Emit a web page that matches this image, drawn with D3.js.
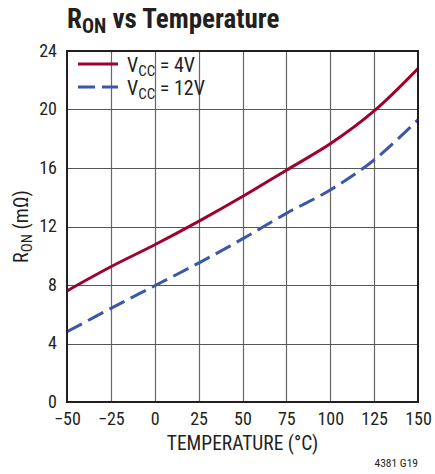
<!DOCTYPE html>
<html><head><meta charset="utf-8">
<script src="https://cdn.jsdelivr.net/npm/d3@7"></script>
<style>body{margin:0;background:#fff}svg{display:block}text{font-family:"Liberation Sans Narrow","Roboto Condensed","Roboto",sans-serif;fill:#231f20}</style>
</head><body><svg id="c" width="435" height="474"></svg>
<script>
const temps = [-50, -25, 0, 25, 50, 75, 100, 125, 150];
const ron4V = [7.6, 9.25, 10.75, 12.35, 14.05, 15.85, 17.65, 19.9, 22.8];
const ron12V = [4.8, 6.4, 7.95, 9.5, 11.15, 12.9, 14.5, 16.55, 19.3];
const xTicks = [-50, -25, 0, 25, 50, 75, 100, 125, 150];
const yTicks = [0, 4, 8, 12, 16, 20, 24];

const svg = d3.select("#c");
const m = {l: 67, r: 418, t: 51, b: 402};
const x = d3.scaleLinear().domain([-50, 150]).range([m.l, m.r]);
const y = d3.scaleLinear().domain([0, 24]).range([m.b, m.t]);

// grid
svg.append("g").selectAll("line").data(xTicks.slice(1, -1)).join("line")
  .attr("x1", d => Math.round(x(d)) + 0.5).attr("x2", d => Math.round(x(d)) + 0.5)
  .attr("y1", m.t).attr("y2", m.b).attr("stroke", "#666").attr("stroke-width", 1.2);
svg.append("g").selectAll("line").data(yTicks.slice(1, -1)).join("line")
  .attr("y1", d => Math.round(y(d)) + 0.5).attr("y2", d => Math.round(y(d)) + 0.5)
  .attr("x1", m.l).attr("x2", m.r).attr("stroke", "#555").attr("stroke-width", 1.2);

// tick labels
const xa = svg.append("g").attr("transform", `translate(0,${m.b})`)
  .call(d3.axisBottom(x).tickValues(xTicks).tickSize(0).tickPadding(10).tickFormat(d => d < 0 ? "\u2212" + Math.abs(d) : d));
xa.select(".domain").remove();
xa.selectAll("text").attr("font-size", 18).attr("font-family", null).attr("fill", "#231f20");
const ya = svg.append("g").attr("transform", `translate(${m.l},0)`)
  .call(d3.axisLeft(y).tickValues(yTicks).tickSize(0).tickPadding(10));
ya.select(".domain").remove();
ya.selectAll("text").attr("font-size", 18).attr("font-family", null).attr("fill", "#231f20").attr("dy", "0.28em");

// lines
const line = vals => d3.line().x((d, i) => x(temps[i])).y(d => y(d)).curve(d3.curveCatmullRom.alpha(0.5))(vals);
svg.append("clipPath").attr("id", "cp").append("rect")
  .attr("x", m.l).attr("y", m.t).attr("width", m.r - m.l).attr("height", m.b - m.t);
svg.append("path").attr("d", line(ron12V)).attr("fill", "none").attr("stroke", "#3b57a7")
  .attr("stroke-width", 3).attr("stroke-dasharray", "17,7").attr("clip-path", "url(#cp)");
svg.append("path").attr("d", line(ron4V)).attr("fill", "none").attr("stroke", "#a0002d")
  .attr("stroke-width", 3).attr("clip-path", "url(#cp)");

// frame
svg.append("rect").attr("x", m.l).attr("y", m.t).attr("width", m.r - m.l).attr("height", m.b - m.t)
  .attr("fill", "none").attr("stroke", "#231f20").attr("stroke-width", 2);

// legend
const leg = [{c: "#a0002d", d: null, v: "4V", yy: 64}, {c: "#3b57a7", d: "17,7", v: "12V", yy: 87}];
leg.forEach(L => {
  svg.append("line").attr("x1", 78).attr("x2", 118).attr("y1", L.yy).attr("y2", L.yy)
    .attr("stroke", L.c).attr("stroke-width", 3).attr("stroke-dasharray", L.d);
  const t = svg.append("text").attr("x", 127).attr("y", L.yy + 8).attr("font-size", 20);
  t.append("tspan").text("V");
  t.append("tspan").attr("font-size", 15).attr("dy", 4).text("CC");
  t.append("tspan").attr("dy", -4).text(" = " + L.v);
});

// title
const tt = svg.append("text").attr("x", 67).attr("y", 28).attr("font-size", 27).attr("font-weight", "bold");
tt.append("tspan").text("R");
tt.append("tspan").attr("font-size", 20).attr("dy", 5).text("ON");
tt.append("tspan").attr("dy", -5).text(" vs Temperature");

// axis titles
svg.append("text").attr("x", (m.l + m.r) / 2).attr("y", 450).attr("text-anchor", "middle")
  .attr("font-size", 19.5).text("TEMPERATURE (\u00B0C)");
const yt = svg.append("text").attr("transform", `translate(28,${(m.t + m.b) / 2}) rotate(-90)`)
  .attr("text-anchor", "middle").attr("font-size", 20);
yt.append("tspan").text("R");
yt.append("tspan").attr("font-size", 15).attr("dy", 4).text("ON");
yt.append("tspan").attr("dy", -4).text(" (m\u03A9)");

svg.append("text").attr("x", 418).attr("y", 467).attr("text-anchor", "end").attr("font-size", 11.5).text("4381 G19");
</script></body></html>
